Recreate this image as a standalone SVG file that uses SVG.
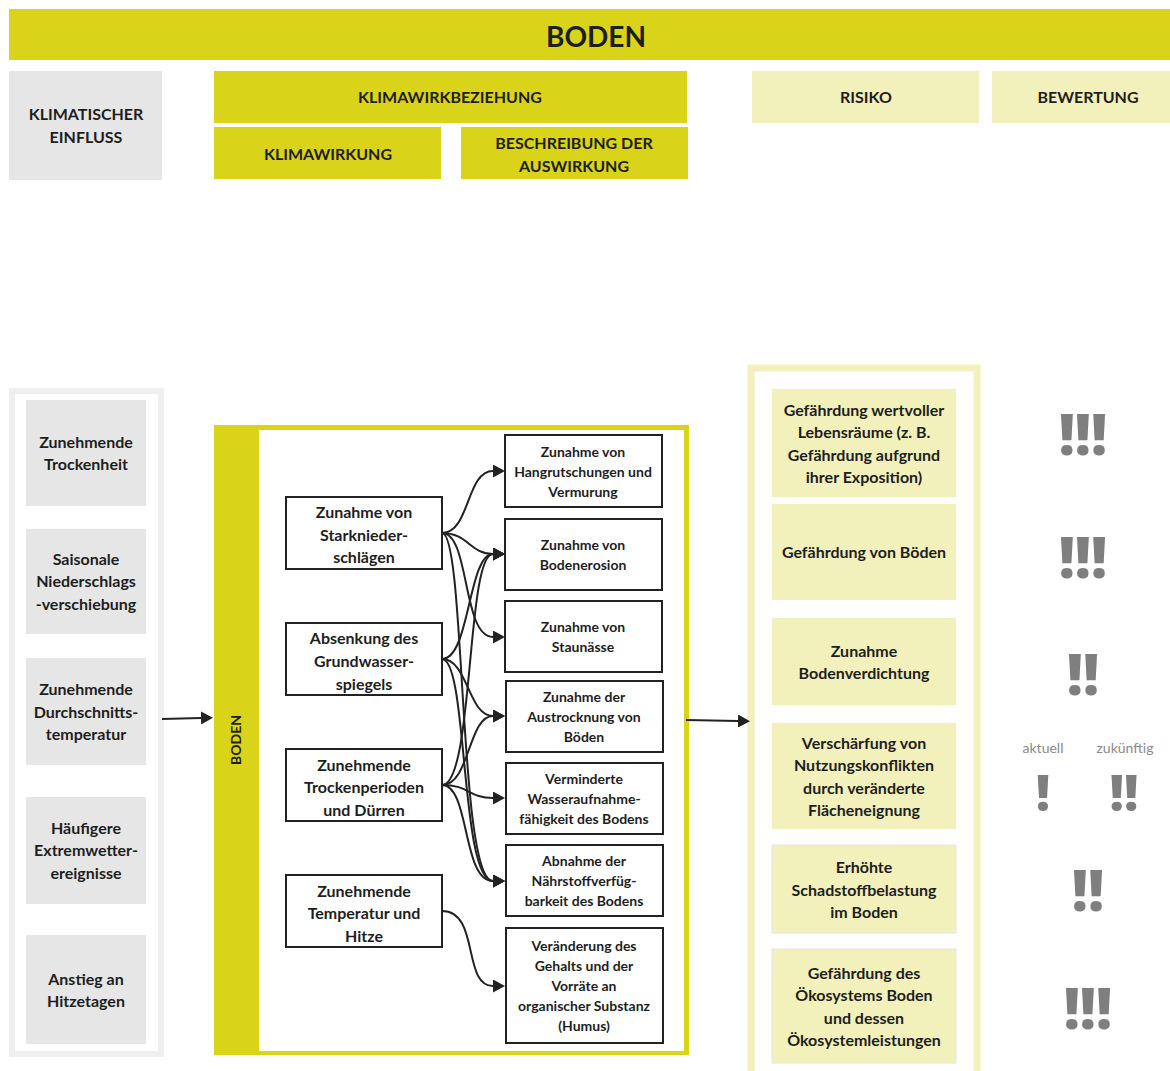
<svg xmlns="http://www.w3.org/2000/svg" width="1170" height="1071" viewBox="0 0 1170 1071">
  <style>
    text { font-family: "Lato", "Liberation Sans", sans-serif; fill: #1e1e1e; text-anchor: middle; }
    .hd { font-size: 16px; font-weight: 700; }
    .title { font-size: 28px; font-weight: 700; }
    .lt { font-size: 16px; font-weight: 700; }
    .src { font-size: 16px; font-weight: 700; }
    .tgt { font-size: 14px; font-weight: 700; }
    .rk { font-size: 16px; font-weight: 700; }
    .bang { font-family: "Open Sans", "Liberation Sans", sans-serif; font-size: 56px; font-weight: 800; fill: #7f7f7f; }
    .bang-s { font-family: "Open Sans", "Liberation Sans", sans-serif; font-size: 50px; font-weight: 800; fill: #7f7f7f; }
    .note { font-size: 14px; font-weight: 400; fill: #8a8a8a; }
    .yel { fill: #d9d31a; }
    .pale { fill: #f2f0bb; }
    .grey { fill: #e6e6e6; }
    .box { fill: #ffffff; stroke: #222222; stroke-width: 2; }
    .link { fill: none; stroke: #222222; stroke-width: 2; marker-end: url(#tip); }
  </style>
  <defs>
    <marker id="tip" markerUnits="userSpaceOnUse" markerWidth="12" markerHeight="13" refX="0" refY="6.5" orient="auto">
      <path d="M0,0 L12,6.5 L0,13 Z" fill="#222222"/>
    </marker>
  </defs>

  <rect width="1170" height="1071" fill="#ffffff"/>

  <!-- header -->
  <g id="header">
    <rect class="yel" x="9" y="9" width="1161" height="51"/>
    <text class="title" x="596" y="47">BODEN</text>
  </g>
  <g id="col-einfluss">
    <rect class="grey" x="9" y="71" width="153" height="109"/>
    <text class="hd" x="86" y="120">KLIMATISCHER</text>
    <text class="hd" x="86" y="143">EINFLUSS</text>
  </g>
  <g id="col-klimawirkbeziehung">
    <rect class="yel" x="214" y="71" width="473" height="52"/>
    <text class="hd" x="450" y="103">KLIMAWIRKBEZIEHUNG</text>
  </g>
  <g id="col-klimawirkung">
    <rect class="yel" x="214" y="127" width="227" height="52"/>
    <text class="hd" x="328" y="160">KLIMAWIRKUNG</text>
  </g>
  <g id="col-beschreibung">
    <rect class="yel" x="461" y="127" width="227" height="52"/>
    <text class="hd" x="574" y="149">BESCHREIBUNG DER</text>
    <text class="hd" x="574" y="172">AUSWIRKUNG</text>
  </g>
  <g id="col-risiko">
    <rect class="pale" x="752" y="71" width="227" height="52"/>
    <text class="hd" x="866" y="103">RISIKO</text>
  </g>
  <g id="col-bewertung">
    <rect class="pale" x="992" y="71" width="178" height="52"/>
    <text class="hd" x="1088" y="103">BEWERTUNG</text>
  </g>

  <!-- climate influences -->
  <g id="einfluss-frame">
    <rect x="12" y="391" width="149" height="663" fill="none" stroke="#efefef" stroke-width="6"/>
  </g>
  <g id="e1">
    <rect class="grey" x="26" y="400" width="120" height="106"/>
    <text class="lt" x="86" y="448">Zunehmende</text>
    <text class="lt" x="86" y="470">Trockenheit</text>
  </g>
  <g id="e2">
    <rect class="grey" x="26" y="529" width="120" height="105"/>
    <text class="lt" x="86" y="565">Saisonale</text>
    <text class="lt" x="86" y="587">Niederschlags</text>
    <text class="lt" x="86" y="610">-verschiebung</text>
  </g>
  <g id="e3">
    <rect class="grey" x="26" y="658" width="120" height="107"/>
    <text class="lt" x="86" y="695">Zunehmende</text>
    <text class="lt" x="86" y="718">Durchschnitts-</text>
    <text class="lt" x="86" y="740">temperatur</text>
  </g>
  <g id="e4">
    <rect class="grey" x="26" y="797" width="120" height="107"/>
    <text class="lt" x="86" y="834">Häufigere</text>
    <text class="lt" x="86" y="856">Extremwetter-</text>
    <text class="lt" x="86" y="879">ereignisse</text>
  </g>
  <g id="e5">
    <rect class="grey" x="26" y="935" width="120" height="109"/>
    <text class="lt" x="86" y="985">Anstieg an</text>
    <text class="lt" x="86" y="1007">Hitzetagen</text>
  </g>

  <!-- soil impact chain -->
  <g id="boden-frame">
    <rect class="yel" x="214" y="425" width="475" height="630"/>
    <rect x="259" y="430" width="425" height="621" fill="#ffffff"/>
    <text class="tgt" transform="translate(241,740) rotate(-90)">BODEN</text>
  </g>

  <g id="s1">
    <rect class="box" x="286" y="497" width="156" height="72"/>
    <text class="src" x="364" y="518">Zunahme von</text>
    <text class="src" x="364" y="541">Starknieder-</text>
    <text class="src" x="364" y="563">schlägen</text>
  </g>
  <g id="s2">
    <rect class="box" x="286" y="623" width="156" height="72"/>
    <text class="src" x="364" y="644">Absenkung des</text>
    <text class="src" x="364" y="667">Grundwasser-</text>
    <text class="src" x="364" y="690">spiegels</text>
  </g>
  <g id="s3">
    <rect class="box" x="286" y="749" width="156" height="72"/>
    <text class="src" x="364" y="771">Zunehmende</text>
    <text class="src" x="364" y="793">Trockenperioden</text>
    <text class="src" x="364" y="816">und Dürren</text>
  </g>
  <g id="s4">
    <rect class="box" x="286" y="875" width="156" height="72"/>
    <text class="src" x="364" y="897">Zunehmende</text>
    <text class="src" x="364" y="919">Temperatur und</text>
    <text class="src" x="364" y="942">Hitze</text>
  </g>

  <g id="t1">
    <rect class="box" x="505" y="435" width="157" height="72"/>
    <text class="tgt" x="583" y="457">Zunahme von</text>
    <text class="tgt" x="583" y="477">Hangrutschungen und</text>
    <text class="tgt" x="583" y="497">Vermurung</text>
  </g>
  <g id="t2">
    <rect class="box" x="505" y="519" width="157" height="71"/>
    <text class="tgt" x="583" y="550">Zunahme von</text>
    <text class="tgt" x="583" y="570">Bodenerosion</text>
  </g>
  <g id="t3">
    <rect class="box" x="505" y="601" width="157" height="71"/>
    <text class="tgt" x="583" y="632">Zunahme von</text>
    <text class="tgt" x="583" y="652">Staunässe</text>
  </g>
  <g id="t4">
    <rect class="box" x="506" y="681" width="157" height="71"/>
    <text class="tgt" x="584" y="702">Zunahme der</text>
    <text class="tgt" x="584" y="722">Austrocknung von</text>
    <text class="tgt" x="584" y="742">Böden</text>
  </g>
  <g id="t5">
    <rect class="box" x="506" y="763" width="157" height="71"/>
    <text class="tgt" x="584" y="784">Verminderte</text>
    <text class="tgt" x="584" y="804">Wasseraufnahme-</text>
    <text class="tgt" x="584" y="824">fähigkeit des Bodens</text>
  </g>
  <g id="t6">
    <rect class="box" x="506" y="845" width="157" height="71"/>
    <text class="tgt" x="584" y="866">Abnahme der</text>
    <text class="tgt" x="584" y="886">Nährstoffverfüg-</text>
    <text class="tgt" x="584" y="906">barkeit des Bodens</text>
  </g>
  <g id="t7">
    <rect class="box" x="506" y="928" width="157" height="115"/>
    <text class="tgt" x="584" y="951">Veränderung des</text>
    <text class="tgt" x="584" y="971">Gehalts und der</text>
    <text class="tgt" x="584" y="991">Vorräte an</text>
    <text class="tgt" x="584" y="1011">organischer Substanz</text>
    <text class="tgt" x="584" y="1031">(Humus)</text>
  </g>

  <!-- risks -->
  <g id="risiko-frame">
    <rect x="751" y="368" width="226" height="720" fill="none" stroke="#f2f0bb" stroke-width="7"/>
  </g>
  <g id="r1">
    <rect class="pale" x="772" y="389" width="184" height="108"/>
    <text class="rk" x="864" y="416">Gefährdung wertvoller</text>
    <text class="rk" x="864" y="438">Lebensräume (z. B.</text>
    <text class="rk" x="864" y="461">Gefährdung aufgrund</text>
    <text class="rk" x="864" y="483">ihrer Exposition)</text>
  </g>
  <g id="r2">
    <rect class="pale" x="772" y="504" width="184" height="96"/>
    <text class="rk" x="864" y="558">Gefährdung von Böden</text>
  </g>
  <g id="r3">
    <rect class="pale" x="772" y="618" width="184" height="87"/>
    <text class="rk" x="864" y="657">Zunahme</text>
    <text class="rk" x="864" y="679">Bodenverdichtung</text>
  </g>
  <g id="r4">
    <rect class="pale" x="772" y="723" width="184" height="106"/>
    <text class="rk" x="864" y="749">Verschärfung von</text>
    <text class="rk" x="864" y="771">Nutzungskonflikten</text>
    <text class="rk" x="864" y="794">durch veränderte</text>
    <text class="rk" x="864" y="816">Flächeneignung</text>
  </g>
  <g id="r5">
    <rect class="pale" x="772" y="845" width="184" height="88" stroke="#e4e4e4" stroke-width="1"/>
    <text class="rk" x="864" y="873">Erhöhte</text>
    <text class="rk" x="864" y="896">Schadstoffbelastung</text>
    <text class="rk" x="864" y="918">im Boden</text>
  </g>
  <g id="r6">
    <rect class="pale" x="772" y="949" width="184" height="114" stroke="#e4e4e4" stroke-width="1"/>
    <text class="rk" x="864" y="979">Gefährdung des</text>
    <text class="rk" x="864" y="1001">Ökosystems Boden</text>
    <text class="rk" x="864" y="1024">und dessen</text>
    <text class="rk" x="864" y="1046">Ökosystemleistungen</text>
  </g>

  <!-- rating -->
  <g id="bewertung">
    <text class="bang" x="1083" y="455">!!!</text>
    <text class="bang" x="1083" y="578">!!!</text>
    <text class="bang" x="1083" y="695">!!</text>
    <text class="note" x="1043" y="753">aktuell</text>
    <text class="note" x="1125" y="753">zukünftig</text>
    <text class="bang-s" x="1043" y="811">!</text>
    <text class="bang-s" x="1124" y="811">!!</text>
    <text class="bang" x="1088" y="911">!!</text>
    <text class="bang" x="1088" y="1029">!!!</text>
  </g>

  <!-- connectors -->
  <g id="connectors">
    <path class="link" d="M162,719 L201,718"/>
    <path class="link" d="M686,720 L738,721"/>
    <!-- Starkniederschläge -->
    <path class="link" d="M442,533 C470,533 466,471 493,471"/>
    <path class="link" d="M442,533 C468,533 470,554 493,554"/>
    <path class="link" d="M442,533 C470,533 462,637 493,637"/>
    <path class="link" d="M442,533 C466,533 458,881 493,881"/>
    <!-- Grundwasserspiegel -->
    <path class="link" d="M442,659 C470,659 468,554 493,554"/>
    <path class="link" d="M442,659 C468,659 468,716 493,716"/>
    <path class="link" d="M442,659 C468,659 460,881 493,881"/>
    <!-- Trockenperioden -->
    <path class="link" d="M442,785 C474,785 466,554 493,554"/>
    <path class="link" d="M442,785 C470,785 468,716 493,716"/>
    <path class="link" d="M442,785 C470,785 468,798 493,798"/>
    <path class="link" d="M442,785 C470,785 462,881 493,881"/>
    <!-- Temperatur -->
    <path class="link" d="M442,911 C480,911 462,986 493,986"/>
  </g>
</svg>
